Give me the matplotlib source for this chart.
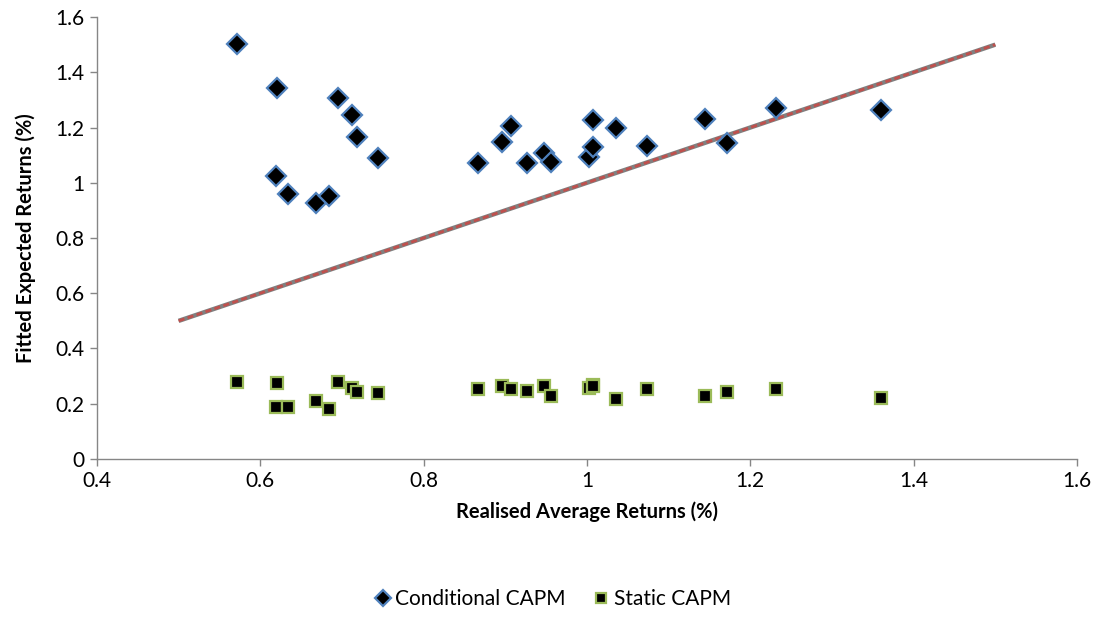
import matplotlib
matplotlib.use("Agg")
import matplotlib.pyplot as plt

# realised average returns (%) for each portfolio
realised = [0.571, 0.620, 0.695, 0.712, 0.718, 0.744, 0.619, 0.634, 0.668, 0.684,
            0.867, 0.896, 0.907, 0.926, 0.948, 0.956, 1.002, 1.008, 1.008, 1.035,
            1.073, 1.144, 1.171, 1.232, 1.360]
# fitted expected returns (%), conditional CAPM
conditional = [1.502, 1.343, 1.308, 1.245, 1.165, 1.088, 1.024, 0.959, 0.928, 0.952,
               1.073, 1.146, 1.207, 1.073, 1.106, 1.074, 1.092, 1.131, 1.227, 1.197,
               1.134, 1.231, 1.145, 1.269, 1.263]
# fitted expected returns (%), static CAPM
static = [0.278, 0.274, 0.279, 0.256, 0.244, 0.240, 0.187, 0.187, 0.211, 0.180,
          0.252, 0.264, 0.252, 0.247, 0.264, 0.229, 0.256, 0.268, 0.265, 0.216,
          0.253, 0.229, 0.244, 0.253, 0.222]
# 45-degree line
line_x = [0.5, 1.5]
line_y = [0.5, 1.5]

x_ticks = [0.4, 0.6, 0.8, 1.0, 1.2, 1.4, 1.6]
x_labels = ["0.4", "0.6", "0.8", "1", "1.2", "1.4", "1.6"]
y_ticks = [0, 0.2, 0.4, 0.6, 0.8, 1.0, 1.2, 1.4, 1.6]
y_labels = ["0", "0.2", "0.4", "0.6", "0.8", "1", "1.2", "1.4", "1.6"]

plt.rcParams["font.family"] = ["Lato", "DejaVu Sans"]
AXIS_GREY = "#868686"

fig = plt.figure(figsize=(11.03, 6.19), dpi=100)
ax = fig.add_axes([0.0879, 0.2585, 0.8885, 0.714])

ax.plot(line_x, line_y, color="#808080", lw=3.2, solid_capstyle="butt", zorder=2)
ax.plot(line_x, line_y, color="#C0504D", lw=2.0, dashes=(2.2, 1.2), zorder=3)

ax.plot(realised, conditional, linestyle="none", marker="D", ms=10,
        mfc="black", mec="#4F81BD", mew=1.6, zorder=4, label="Conditional CAPM")
ax.plot(realised, static, linestyle="none", marker="s", ms=8.8,
        mfc="black", mec="#9BBB59", mew=1.6, zorder=4, label="Static CAPM")

ax.set_xlim(0.4, 1.6)
ax.set_ylim(0, 1.6)
ax.set_xticks(x_ticks)
ax.set_xticklabels(x_labels)
ax.set_yticks(y_ticks)
ax.set_yticklabels(y_labels)

for side in ("top", "right"):
    ax.spines[side].set_visible(False)
for side in ("left", "bottom"):
    ax.spines[side].set_color(AXIS_GREY)
    ax.spines[side].set_linewidth(1.0)
ax.tick_params(axis="both", direction="out", length=5, width=1.0,
               color=AXIS_GREY, labelsize=15, labelcolor="black", pad=4)

ax.set_xlabel("Realised Average Returns (%)", fontsize=14.5, fontweight="bold",
              labelpad=7)
ax.set_ylabel("Fitted Expected Returns (%)", fontsize=14.5, fontweight="bold",
              labelpad=14)

fig.legend(loc="center", bbox_to_anchor=(0.5, 0.032), ncol=2, frameon=False,
           fontsize=15, handletextpad=0.1, columnspacing=1.2, handlelength=1.0,
           markerscale=0.8)

fig.savefig("out.png", dpi=100)
